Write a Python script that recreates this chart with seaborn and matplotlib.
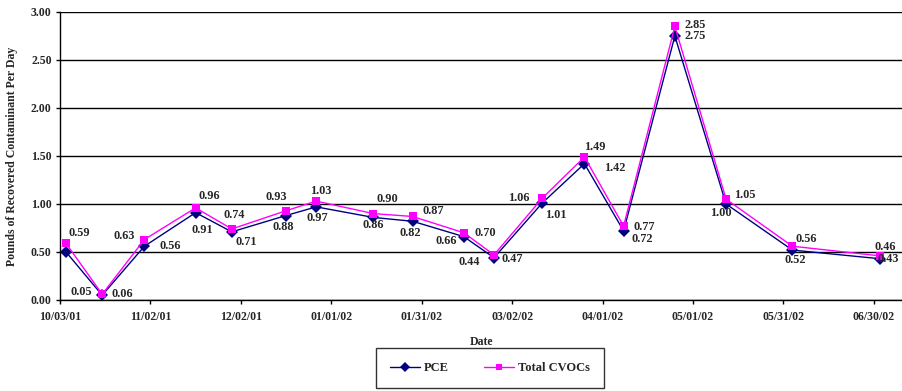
import matplotlib
matplotlib.use("Agg")
import matplotlib.pyplot as plt
import matplotlib.dates as mdates
from matplotlib.lines import Line2D
import seaborn as sns
import pandas as pd

dates = ["2001-10-05", "2001-10-17", "2001-10-31", "2001-11-17", "2001-11-29",
         "2001-12-17", "2001-12-27", "2002-01-15", "2002-01-28", "2002-02-14",
         "2002-02-24", "2002-03-12", "2002-03-26", "2002-04-08", "2002-04-25",
         "2002-05-12", "2002-06-03", "2002-07-02"]
pce = [0.50, 0.05, 0.56, 0.91, 0.71, 0.88, 0.97, 0.86, 0.82, 0.66,
       0.44, 1.01, 1.42, 0.72, 2.75, 1.00, 0.52, 0.43]
cvocs = [0.59, 0.06, 0.63, 0.96, 0.74, 0.93, 1.03, 0.90, 0.87, 0.70,
         0.47, 1.06, 1.49, 0.77, 2.85, 1.05, 0.56, 0.46]
pce_show = [False] + [True] * 17
tick_dates = ["2001-10-03", "2001-11-02", "2001-12-02", "2002-01-01", "2002-01-31",
              "2002-03-02", "2002-04-01", "2002-05-01", "2002-05-31", "2002-06-30"]
tick_labels = ["10/03/01", "11/02/01", "12/02/01", "01/01/02", "01/31/02",
               "03/02/02", "04/01/02", "05/01/02", "05/31/02", "06/30/02"]
y_ticks = [0.0, 0.5, 1.0, 1.5, 2.0, 2.5, 3.0]

# label offsets in pixels (dx right, dy up)
pce_off = [(0, 0), (-21, 3), (26, 0), (7, -17), (14, -10), (-3, -11), (1, -11),
           (0, -8), (-2, -12), (-18, -4), (-25, -4), (14, -12), (30, -4),
           (19, -8), (20, 0), (-5, -9), (3, -10), (8, 0)]
cv_off = [(13, 10), (20, 0), (-20, 4), (14, 12), (2, 14), (-10, 14), (5, 10),
          (14, 15), (21, 5), (21, 0), (18, -4), (-23, 0), (10, 10), (21, -1),
          (20, 1), (19, 4), (14, 7), (5, 9)]

sns.set_style("white")
plt.rcParams["font.family"] = ["Liberation Serif", "DejaVu Serif"]
plt.rcParams["font.weight"] = "bold"

dts = pd.to_datetime(dates)
df = pd.DataFrame({
    "Date": list(dts) * 2,
    "value": pce + cvocs,
    "series": ["PCE"] * len(pce) + ["Total CVOCs"] * len(cvocs),
})

fig = plt.figure(figsize=(9.03, 3.91), dpi=100)
ax = fig.add_axes([60 / 903, 1 - 300 / 391, (903 - 60) / 903 - 0.001, 288 / 391])

palette = {"PCE": "#000080", "Total CVOCs": "#FF00FF"}
sns.lineplot(data=df, x="Date", y="value", hue="series", style="series",
             markers={"PCE": "D", "Total CVOCs": "s"}, dashes=False,
             palette=palette, ax=ax, linewidth=1.0, markersize=6,
             markeredgewidth=0, legend=False)

ax.set_ylim(0, 3.0)
x0 = mdates.date2num(pd.Timestamp("2001-10-03"))
ax.set_xlim(x0, x0 + 279.4)
ax.set_yticks(y_ticks)
ax.set_yticklabels([f"{v:.2f}" for v in y_ticks], fontsize=8.5, fontweight="bold")
ax.set_xticks([mdates.date2num(pd.Timestamp(d)) for d in tick_dates])
ax.set_xticklabels(tick_labels, fontsize=8.5, fontweight="bold")
ax.tick_params(axis="both", direction="out", length=3, width=1, color="black",
               bottom=True, left=True)
ax.tick_params(axis="x", pad=5)
ax.tick_params(axis="y", pad=3)
ax.yaxis.grid(True, color="black", linewidth=1)
ax.xaxis.grid(False)
for s in ["top", "right"]:
    ax.spines[s].set_visible(False)
for s in ["left", "bottom"]:
    ax.spines[s].set_color("black")
    ax.spines[s].set_linewidth(1)
ax.set_xlabel("Date", fontsize=8.5, fontweight="bold", labelpad=9)
ax.set_ylabel("Pounds of Recovered Contaminant Per Day", fontsize=8.5,
              fontweight="bold", labelpad=9)

for d, v, off, show in zip(dts, pce, pce_off, pce_show):
    if show:
        ax.annotate(f"{v:.2f}", (mdates.date2num(d), v), xytext=off,
                    textcoords="offset pixels", ha="center", va="center",
                    fontsize=8.8, fontweight="bold", annotation_clip=False)
for d, v, off in zip(dts, cvocs, cv_off):
    ax.annotate(f"{v:.2f}", (mdates.date2num(d), v), xytext=off,
                textcoords="offset pixels", ha="center", va="center",
                fontsize=8.8, fontweight="bold", annotation_clip=False)

handles = [Line2D([], [], color="#000080", marker="D", markersize=5, lw=1, markeredgewidth=0),
           Line2D([], [], color="#FF00FF", marker="s", markersize=5, lw=1, markeredgewidth=0)]
leg = fig.legend(handles, ["PCE", "Total CVOCs"], loc="center",
                 bbox_to_anchor=(490 / 903, 1 - 368 / 391), ncol=2, frameon=True,
                 fancybox=False, edgecolor="black", prop={"size": 9, "weight": "bold"},
                 handlelength=2.4, columnspacing=2.8, borderpad=1.15, handletextpad=0.3)
leg.get_frame().set_linewidth(1)

fig.savefig("out.png", dpi=100)
